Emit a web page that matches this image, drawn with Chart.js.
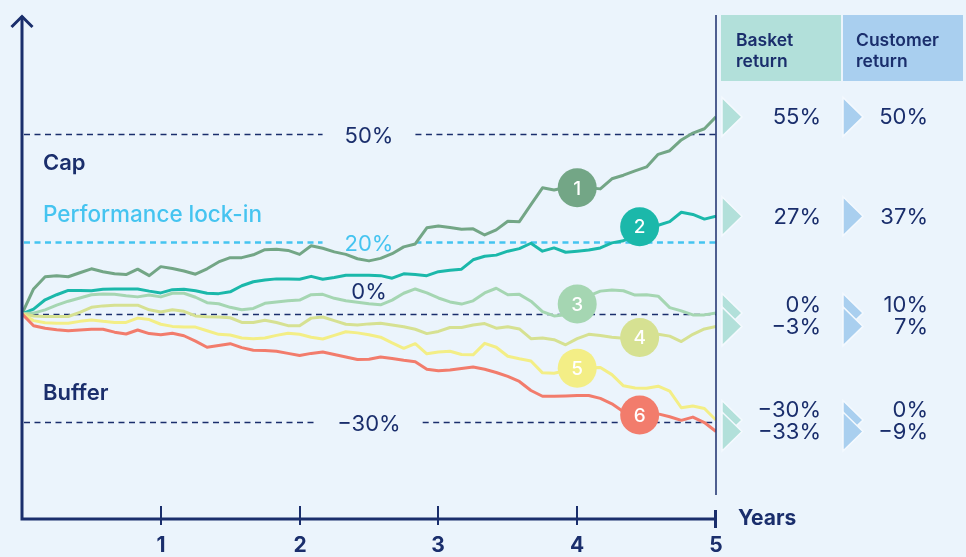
<!DOCTYPE html>
<html><head><meta charset="utf-8">
<script src="https://cdn.jsdelivr.net/npm/chart.js@4"></script>
<style>
html,body{margin:0;padding:0;background:#ebf4fc;}
#wrap{width:966px;height:557px;position:relative;}
canvas{display:block;}
</style></head><body>
<div id="wrap"><canvas id="c" width="966" height="557"></canvas></div>
<script>
// Time axis: months 0..60 (five years)
const months = Array.from({length: 61}, (_, i) => i);
const yearTicks = [1, 2, 3, 4, 5];

// Basket paths (% return)
const basket1 = [0,6.9,10.3,10.6,10.3,11.4,12.5,11.7,11.1,10.9,12.4,10.6,13.1,12.6,11.9,11,12.5,14.4,15.6,15.6,16.4,17.8,17.9,17.6,16.5,18.9,18.2,17.2,16.5,15.3,14.7,15.4,16.7,18.6,19.4,23.9,24.4,24,23.5,23.6,21.9,23.3,25.7,25.6,30.3,35,34.4,35.1,35,35,34.7,37.5,38.5,39.7,40.8,44.3,45.3,48.3,50.2,51.4,54.7];
const basket2 = [0,1.3,3.9,5.3,6.5,6.5,6.4,6.8,6.9,6.9,6.9,6.3,5.8,6.7,6.8,6.4,5.7,5.6,6.1,7.8,8.9,9.4,9.7,9.7,9.6,10.4,9.6,10.1,10.7,10.7,10.7,10.6,9.9,11.1,10.9,10.6,11.7,12.1,12.4,15,16,16.3,17.4,18.1,19.6,17.4,18.3,17.1,17.4,17.7,18.3,19.7,20.3,21.9,23.9,24.6,25.6,28.2,27.6,26.3,27.1];
const basket3 = [0,0.2,1.1,2.4,3.5,4.4,5.3,5.5,5.4,5,4.7,5.2,4.7,5.7,5.7,4.6,3.1,2.8,1.8,1.1,1.5,2.9,3.3,3.6,3.8,5.3,5.4,4.3,3.6,3.2,2.8,2.5,3.8,5.7,6.9,5.8,4.4,3.3,2.7,3.6,5.8,7.1,5.3,5.4,3.5,0.6,-0.6,-0.3,2.5,5,6.3,6.6,6.4,5.2,5.3,4.9,1.7,0.8,-0.3,-0.3,0.2];
const basket4 = [0,-0.6,-0.75,-0.75,-0.75,0.4,1.8,2.2,2.4,2.4,2.4,1.1,0.5,1.1,0.7,-0.6,-0.8,-0.9,-1.1,-2.4,-2.4,-1.8,-2.4,-3.3,-3.3,-1.2,-0.9,-1.9,-2.9,-3.1,-2.8,-2.6,-3.1,-3.6,-4.3,-5.5,-4.9,-3.8,-3.8,-3.1,-2.7,-4,-3.6,-4.2,-6.9,-6.7,-7.2,-8.6,-6.9,-5.7,-6,-6.5,-6.8,-6.7,-6.4,-5.7,-6.2,-7.7,-5.7,-4.2,-3.5];
const basket5 = [0,-1.9,-2.5,-2.6,-2.6,-2.1,-1.7,-2.1,-2.4,-2.4,-1.2,-1.6,-2.9,-3.5,-3.7,-3.7,-4.7,-5.7,-5.9,-6.7,-6.9,-6.7,-6,-5.4,-5.7,-6.5,-7,-6,-5,-5.3,-5.8,-6.5,-8.1,-9.6,-8.3,-11.1,-10.6,-10.4,-11.3,-11.4,-8.2,-9.3,-11.8,-12.5,-13.1,-16.4,-16.5,-15.8,-15.3,-15,-14.9,-16.9,-20,-20.6,-20.7,-20.1,-21.5,-26.1,-25.6,-26.3,-29.5];
const basket6 = [0,-3.3,-4,-4.4,-4.7,-4.5,-4.3,-4.3,-5.1,-5.6,-4.5,-5.5,-5.8,-5.4,-6.1,-7.6,-9.3,-8.8,-8.3,-9.4,-10.1,-10.2,-10.4,-11,-11.6,-11,-10.6,-11.3,-12,-12.7,-12.6,-12,-12.4,-12.9,-13.3,-15.4,-15.8,-15.6,-15.2,-14.8,-15.4,-16.3,-17.4,-18.8,-21.3,-22.9,-22.9,-22.8,-22.7,-22.7,-23.5,-25,-27.2,-27.9,-28.1,-27.8,-28.6,-29.6,-28.7,-30.2,-32.7];

// Numbered markers on the paths (year, % value)
const markerLabels = ['1','2','3','4','5','6'];
const markerYears  = [4, 4.45, 4, 4.45, 4, 4.45];
const markerValues = [35, 24.2, 2.7, -6.6, -15.1, -28.1];

// Reference levels
const refValues = [50, 20, 0, -30];
const refLabels = ['50%', '20%', '0%', '\u221230%'];

// Table
const basketReturns   = ['55%', '27%', '0%', '\u22123%', '\u221230%', '\u221233%'];
const customerReturns = ['50%', '37%', '10%', '7%', '0%', '\u22129%'];

const seriesList = [basket1, basket2, basket3, basket4, basket5, basket6];
const colors = ['#73a686', '#1bb8aa', '#a5d6b2', '#d6e192', '#f3ee86', '#f27c6c'];
const navy = '#1a2e6c';
const cyan = '#45c4f0';
const FONT = 'Inter, "Liberation Sans", sans-serif';

const datasets = seriesList.map((s, k) => ({
  data: s.map((v, i) => ({x: months[i] / 12, y: v})),
  borderColor: colors[k],
  borderWidth: 3,
  pointRadius: 0,
  tension: 0,
  borderJoinStyle: 'round',
  order: 6 - k
}));

const decor = {
  id: 'decor',
  beforeDatasetsDraw(chart) {
    const {ctx, chartArea: a, scales: {x, y}} = chart;
    ctx.save();
    const lx = x.getPixelForValue(2.5);
    refValues.forEach((v, i) => {
      const py = Math.round(y.getPixelForValue(v)) + 0.5;
      const isCyan = v === 20;
      ctx.font = '400 22px ' + FONT;
      const w = ctx.measureText(refLabels[i]).width;
      ctx.strokeStyle = isCyan ? cyan : navy;
      ctx.lineWidth = isCyan ? 2.5 : 1.6;
      ctx.setLineDash([6, 4.5]);
      ctx.beginPath();
      if (v === 0) {
        ctx.moveTo(a.left, py); ctx.lineTo(a.right, py);
      } else {
        ctx.moveTo(a.left + 2, py); ctx.lineTo(lx - w / 2 - 22, py);
        ctx.moveTo(lx + w / 2 + 22, py); ctx.lineTo(a.right, py);
      }
      ctx.stroke();
      ctx.setLineDash([]);
      ctx.fillStyle = isCyan ? cyan : navy;
      ctx.textAlign = 'center';
      ctx.textBaseline = 'alphabetic';
      if (v === 0) ctx.fillText(refLabels[i], lx, py - 16);
      else ctx.fillText(refLabels[i], lx, py + 8.5);
    });
    // left labels
    ctx.textAlign = 'left';
    ctx.fillStyle = navy;
    ctx.font = '600 22px ' + FONT;
    ctx.fillText('Cap', 43, 170);
    ctx.fillText('Buffer', 43, 400);
    ctx.fillStyle = cyan;
    ctx.font = '500 22.5px ' + FONT;
    ctx.fillText('Performance lock-in', 43, 222);
    ctx.restore();
  },
  afterDatasetsDraw(chart) {
    const {ctx, chartArea: a, scales: {x, y}} = chart;
    ctx.save();
    // markers
    markerLabels.forEach((t, i) => {
      const px = x.getPixelForValue(markerYears[i]);
      const py = y.getPixelForValue(markerValues[i]);
      ctx.fillStyle = colors[i];
      ctx.beginPath(); ctx.arc(px, py, 19.5, 0, Math.PI * 2); ctx.fill();
      ctx.fillStyle = '#ffffff';
      ctx.font = '500 19px ' + FONT;
      ctx.textAlign = 'center'; ctx.textBaseline = 'middle';
      ctx.fillText(t, px, py + 1);
    });
    // axes
    ctx.strokeStyle = navy; ctx.lineCap = 'butt';
    ctx.lineWidth = 3;
    ctx.beginPath();
    ctx.moveTo(a.left, a.bottom + 1.5); ctx.lineTo(a.left, a.top + 1);
    ctx.moveTo(a.left - 1.5, a.bottom); ctx.lineTo(a.right, a.bottom);
    ctx.stroke();
    ctx.lineJoin = 'miter';
    ctx.beginPath();
    ctx.moveTo(a.left - 10.5, a.top + 12); ctx.lineTo(a.left, a.top + 1.5); ctx.lineTo(a.left + 10.5, a.top + 12);
    ctx.stroke();
    // right border line
    ctx.lineWidth = 1.5;
    ctx.beginPath(); ctx.moveTo(a.right, a.top); ctx.lineTo(a.right, a.bottom - 24); ctx.stroke();
    // ticks
    yearTicks.forEach(t => {
      const px = Math.round(x.getPixelForValue(t));
      ctx.lineWidth = t === 5 ? 3 : 2;
      ctx.beginPath();
      if (t === 5) { ctx.moveTo(px - 0.5, a.bottom - 9); ctx.lineTo(px - 0.5, a.bottom + 9); }
      else { ctx.moveTo(px, a.bottom - 13); ctx.lineTo(px, a.bottom + 6); }
      ctx.stroke();
      ctx.fillStyle = navy;
      ctx.font = '700 21px ' + FONT;
      ctx.textAlign = 'center'; ctx.textBaseline = 'alphabetic';
      ctx.fillText(String(t), px, 552);
    });
    ctx.textAlign = 'left';
    ctx.fillText('Years', 738, 525);

    // table header
    ctx.fillStyle = '#b2e0da'; ctx.fillRect(721, 15, 120, 66);
    ctx.fillStyle = '#a9cfef'; ctx.fillRect(843, 15, 120, 66);
    ctx.fillStyle = navy;
    ctx.font = '600 17.5px ' + FONT;
    ctx.fillText('Basket', 736, 46);
    ctx.fillText('return', 736, 67);
    ctx.fillText('Customer', 856, 46);
    ctx.fillText('return', 856, 67);

    // triangles + values
    const ends = seriesList.map(s => y.getPixelForValue(s[s.length - 1]));
    const textY = ends.slice();
    for (let i = textY.length - 2; i >= 0; i--) {
      if (textY[i + 1] - textY[i] < 22) textY[i] = textY[i + 1] - 22;
    }
    ends.forEach((py, i) => {
      [[722, '#b2e0da'], [843, '#a9cfef']].forEach(([tx, c]) => {
        ctx.beginPath();
        ctx.moveTo(tx, py - 19.5); ctx.lineTo(tx + 20, py); ctx.lineTo(tx, py + 19.5); ctx.closePath();
        ctx.fillStyle = c; ctx.fill();
        ctx.strokeStyle = '#f4f9fe'; ctx.lineWidth = 1.5; ctx.stroke();
      });
    });
    ctx.fillStyle = navy;
    ctx.font = '400 22px ' + FONT;
    ctx.textAlign = 'right'; ctx.textBaseline = 'middle';
    textY.forEach((py, i) => {
      ctx.fillText(basketReturns[i], 821, py + 1);
      ctx.fillText(customerReturns[i], 928, py + 1);
    });
    ctx.restore();
  }
};

new Chart(document.getElementById('c'), {
  type: 'line',
  data: {datasets},
  options: {
    responsive: false,
    animation: false,
    devicePixelRatio: 1,
    layout: {padding: {left: 22, right: 250, top: 15, bottom: 38}},
    plugins: {legend: {display: false}, tooltip: {enabled: false}},
    scales: {
      x: {type: 'linear', min: 0, max: 5, display: false},
      y: {min: -57, max: 83, display: false}
    }
  },
  plugins: [decor]
});
</script>
</body></html>
